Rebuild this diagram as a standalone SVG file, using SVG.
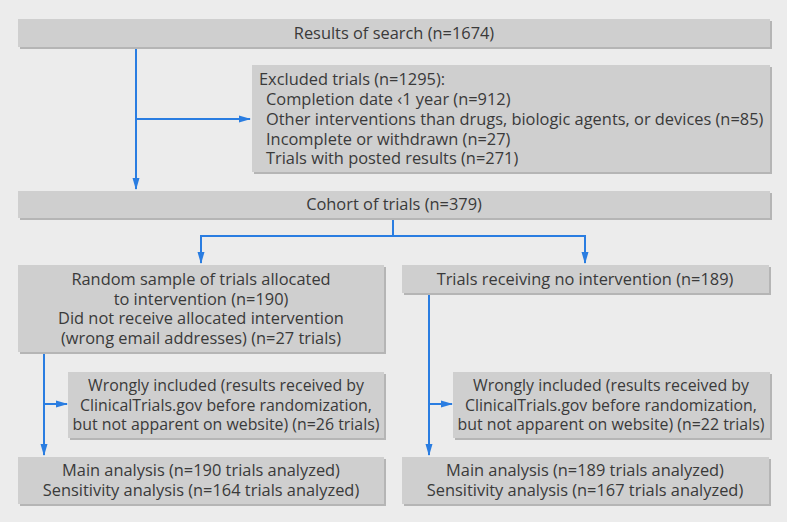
<svg xmlns="http://www.w3.org/2000/svg" width="787" height="522" viewBox="0 0 787 522">
<style>
.bg{fill:#ececec}
.sh{fill:#b5b5b5}
.bx{fill:#cfcfcf}
text{font-family:"Open Sans","Noto Sans",sans-serif;font-size:16.4px;fill:#3a3a3a}
.c{text-anchor:middle}
.s{font-size:15.9px}
.ln{stroke:#2a7de1;stroke-width:2;fill:none}
</style>
<defs>
<marker id="ah" markerWidth="12" markerHeight="8" refX="11" refY="4" orient="auto" markerUnits="userSpaceOnUse">
<path d="M0,0.5 L12,4 L0,7.5 Z" fill="#2a7de1"/>
</marker>
</defs>
<rect class="bg" x="0" y="0" width="787" height="522"/>
<g id="connectors">
<path class="ln" d="M136,47 V189" marker-end="url(#ah)"/>
<path class="ln" d="M136,119 H250" marker-end="url(#ah)"/>
<path class="ln" d="M393,218 V236 H201 V263" marker-end="url(#ah)"/>
<path class="ln" d="M393,236 H585 V263" marker-end="url(#ah)"/>
<path class="ln" d="M44,352 V455" marker-end="url(#ah)"/>
<path class="ln" d="M44,404 H67" marker-end="url(#ah)"/>
<path class="ln" d="M429,293 V455" marker-end="url(#ah)"/>
<path class="ln" d="M429,404 H452" marker-end="url(#ah)"/>
</g>
<g id="search">
<rect class="sh" x="20" y="21" width="752" height="28"/>
<rect class="bx" x="18" y="19" width="752" height="28"/>
<text class="c" x="394" y="39">Results of search (n=1674)</text>
</g>
<g id="excluded">
<rect class="sh" x="254" y="67" width="518" height="107"/>
<rect class="bx" x="252" y="65" width="518" height="107"/>
<text x="259" y="85">Excluded trials (n=1295):</text>
<text x="266" y="105">Completion date ‹1 year (n=912)</text>
<text x="266" y="125">Other interventions than drugs, biologic agents, or devices (n=85)</text>
<text x="266" y="145">Incomplete or withdrawn (n=27)</text>
<text x="266" y="164">Trials with posted results (n=271)</text>
</g>
<g id="cohort">
<rect class="sh" x="20" y="193" width="752" height="27"/>
<rect class="bx" x="18" y="191" width="752" height="27"/>
<text class="c" x="394" y="210">Cohort of trials (n=379)</text>
</g>
<g id="random">
<rect class="sh" x="20" y="267" width="366" height="87"/>
<rect class="bx" x="18" y="265" width="366" height="87"/>
<text class="c" x="201" y="285">Random sample of trials allocated</text>
<text class="c" x="201" y="305">to intervention (n=190)</text>
<text class="c" x="201" y="324">Did not receive allocated intervention</text>
<text class="c" x="201" y="344">(wrong email addresses) (n=27 trials)</text>
</g>
<g id="nointervention">
<rect class="sh" x="404" y="267" width="367" height="28"/>
<rect class="bx" x="402" y="265" width="367" height="28"/>
<text class="c" x="585" y="285">Trials receiving no intervention (n=189)</text>
</g>
<g id="wrong-left">
<rect class="sh" x="70" y="374" width="316" height="66"/>
<rect class="bx" x="68" y="372" width="316" height="66"/>
<text class="c s" x="226" y="391">Wrongly included (results received by</text>
<text class="c s" x="226" y="411">ClinicalTrials.gov before randomization,</text>
<text class="c s" x="226" y="430">but not apparent on website) (n=26 trials)</text>
</g>
<g id="wrong-right">
<rect class="sh" x="455" y="374" width="317" height="66"/>
<rect class="bx" x="453" y="372" width="317" height="66"/>
<text class="c s" x="611" y="391">Wrongly included (results received by</text>
<text class="c s" x="611" y="411">ClinicalTrials.gov before randomization,</text>
<text class="c s" x="611" y="430">but not apparent on website) (n=22 trials)</text>
</g>
<g id="main-left">
<rect class="sh" x="20" y="459" width="366" height="47"/>
<rect class="bx" x="18" y="457" width="366" height="47"/>
<text class="c" x="201" y="476">Main analysis (n=190 trials analyzed)</text>
<text class="c" x="201" y="496">Sensitivity analysis (n=164 trials analyzed)</text>
</g>
<g id="main-right">
<rect class="sh" x="404" y="459" width="367" height="47"/>
<rect class="bx" x="402" y="457" width="367" height="47"/>
<text class="c" x="585" y="476">Main analysis (n=189 trials analyzed)</text>
<text class="c" x="585" y="496">Sensitivity analysis (n=167 trials analyzed)</text>
</g>
</svg>
